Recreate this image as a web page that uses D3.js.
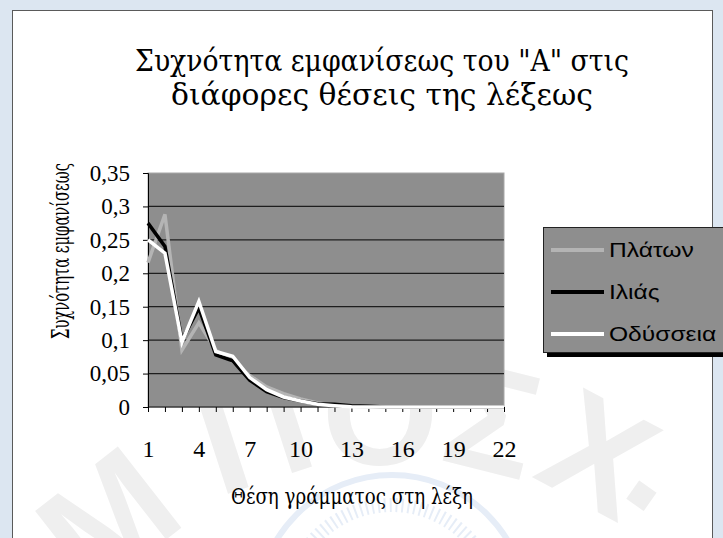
<!DOCTYPE html>
<html>
<head>
<meta charset="utf-8">
<script src="https://cdn.jsdelivr.net/npm/d3@7"></script>
<style>
  body { margin: 0; background: #dce6f1; }
  svg { display: block; }
</style>
</head>
<body>
<svg width="723" height="538"></svg>
<script>
// categories: letter position in the word
const positions = d3.range(1, 23)
const tickLabels = [1, 4, 7, 10, 13, 16, 19, 22]
const yTicks = [0, 0.05, 0.1, 0.15, 0.2, 0.25, 0.3, 0.35]

const platon = [0.216, 0.288, 0.085, 0.126, 0.085, 0.068, 0.047, 0.03, 0.02, 0.012, 0.006, 0.003, 0.001, 0, 0, 0, 0, 0, 0, 0, 0, 0]
const ilias = [0.275, 0.24, 0.1, 0.148, 0.078, 0.069, 0.04, 0.023, 0.014, 0.009, 0.005, 0.004, 0.002, 0.001, 0, 0, 0, 0, 0, 0, 0, 0]
const odysseia = [0.25, 0.23, 0.097, 0.158, 0.083, 0.076, 0.044, 0.026, 0.015, 0.009, 0.004, 0.002, 0.0005, 0, 0, 0, 0, 0, 0, 0, 0, 0]

const seriesNames = ['Πλάτων', 'Ιλιάς', 'Οδύσσεια']
const seriesColors = ['#b4b4b4', '#000000', '#ffffff']
const series = [platon, ilias, odysseia]

const serif = '"Liberation Serif", "DejaVu Serif", serif'
const greekSerif = '"DejaVu Serif", "Liberation Serif", serif'

let svg = d3.select('svg')

// white panel
svg.append('rect')
  .attr('x', 12.5).attr('y', 10.5)
  .attr('width', 700).attr('height', 540)
  .attr('fill', '#fff')
  .attr('stroke', '#5a5a5a')

// faint watermark (seal + letters)
let seal = svg.append('g')
  .attr('fill', 'none')
  .attr('stroke', '#e6edf7')
seal.append('circle').attr('cx', 392).attr('cy', 610).attr('r', 135).attr('stroke-width', 6)
seal.append('circle').attr('cx', 392).attr('cy', 610).attr('r', 105).attr('stroke-width', 14).attr('stroke-dasharray', '2 4')

let wm = svg.append('g')
  .attr('fill', '#efefef')
  .attr('font-family', 'Liberation Sans, Arial, sans-serif')
  .attr('font-weight', 'bold')
  .attr('font-size', 150)
  .attr('text-anchor', 'middle');
[['Μ', 140, 560, -38], ['Π', 270, 480, -18], ['Ο', 380, 465, 0], ['Σ', 480, 470, 14], ['Χ', 575, 500, 28], ['.', 635, 505, 35], ['Σ', 720, 600, 48]]
  .forEach(d => {
    wm.append('text').attr('transform', `translate(${d[1]},${d[2]}) rotate(${d[3]})`).text(d[0])
  })

let margin = { left: 148, right: 504, top: 173, bottom: 407 }

let x = d3.scalePoint()
  .domain(positions)
  .range([margin.left, margin.right])

let y = d3.scaleLinear()
  .domain([0, 0.35])
  .range([margin.bottom, margin.top])

// plot area
svg.append('rect')
  .attr('x', margin.left).attr('y', margin.top)
  .attr('width', margin.right - margin.left)
  .attr('height', margin.bottom - margin.top)
  .attr('fill', '#8e8e8e')
  .attr('stroke', '#a8a8a8')

// gridlines
svg.append('g')
  .selectAll('line')
  .data(yTicks.filter(d => d > 0 && d < 0.35))
  .enter().append('line')
  .attr('x1', margin.left).attr('x2', margin.right)
  .attr('y1', d => y(d)).attr('y2', d => y(d))
  .attr('stroke', '#1e1e1e')
  .attr('stroke-width', 1.2)

// y axis
let yAxis = svg.append('g')
  .attr('transform', `translate(${margin.left},0)`)
  .call(d3.axisLeft(y).tickValues(yTicks).tickSize(5).tickPadding(13)
    .tickFormat(d => String(+d.toFixed(2)).replace('.', ',')))
yAxis.select('.domain').attr('stroke', '#000')
yAxis.selectAll('line').attr('stroke', '#000')
yAxis.selectAll('text')
  .attr('font-family', serif)
  .attr('font-size', 23)
  .attr('fill', '#000')

// x axis
let xAxis = svg.append('g')
  .attr('transform', `translate(0,${margin.bottom})`)
  .call(d3.axisBottom(x).tickSize(5).tickPadding(28)
    .tickFormat(d => tickLabels.includes(d) ? d : ''))
xAxis.select('.domain').attr('stroke', '#000').attr('d', `M${margin.left},0H${margin.right}`)
xAxis.selectAll('line').attr('stroke', '#000')
xAxis.selectAll('text')
  .attr('font-family', serif)
  .attr('font-size', 24)
  .attr('fill', '#000')

// lines
let line = d3.line()
  .x((d, i) => x(positions[i]))
  .y(d => y(d))

svg.append('g')
  .selectAll('path')
  .data(series)
  .enter().append('path')
  .attr('d', line)
  .attr('fill', 'none')
  .attr('stroke', (d, i) => seriesColors[i])
  .attr('stroke-width', 3.5)
  .attr('stroke-linejoin', 'miter')

// titles (Greek text)
let title = svg.append('text')
  .attr('text-anchor', 'middle')
  .attr('font-family', greekSerif)
  .attr('font-size', 29)
title.append('tspan').attr('x', 382).attr('y', 71)
  .attr('textLength', 494).attr('lengthAdjust', 'spacingAndGlyphs')
  .text('Συχνότητα εμφανίσεως του "Α" στις')
title.append('tspan').attr('x', 382).attr('y', 105)
  .attr('textLength', 422).attr('lengthAdjust', 'spacingAndGlyphs')
  .text('διάφορες θέσεις της λέξεως')

svg.append('text')
  .attr('text-anchor', 'middle')
  .attr('font-family', greekSerif)
  .attr('font-size', 23)
  .attr('x', 352).attr('y', 504)
  .attr('textLength', 242).attr('lengthAdjust', 'spacingAndGlyphs')
  .text('Θέση γράμματος στη λέξη')

svg.append('text')
  .attr('text-anchor', 'middle')
  .attr('font-family', greekSerif)
  .attr('font-size', 24)
  .attr('transform', 'translate(69,251) rotate(-90)')
  .attr('textLength', 176).attr('lengthAdjust', 'spacingAndGlyphs')
  .text('Συχνότητα εμφανίσεως')

// legend
let legend = svg.append('g')
legend.append('rect')
  .attr('x', 547).attr('y', 231).attr('width', 180).attr('height', 126)
  .attr('fill', '#000')
legend.append('rect')
  .attr('x', 543.5).attr('y', 227.5).attr('width', 180).attr('height', 125)
  .attr('fill', '#8e8e8e')
  .attr('stroke', '#222')

let item = legend.selectAll('g.item')
  .data(seriesNames)
  .enter().append('g')
  .attr('transform', (d, i) => `translate(0,${250 + i * 42})`)
item.append('line')
  .attr('x1', 551).attr('x2', 604)
  .attr('stroke', (d, i) => seriesColors[i])
  .attr('stroke-width', 4)
item.append('text')
  .attr('transform', 'translate(609,7) scale(1.2,1)')
  .attr('font-family', 'Liberation Sans, Arial, sans-serif')
  .attr('font-size', 20.5)
  .text(d => d)
</script>
</body>
</html>
